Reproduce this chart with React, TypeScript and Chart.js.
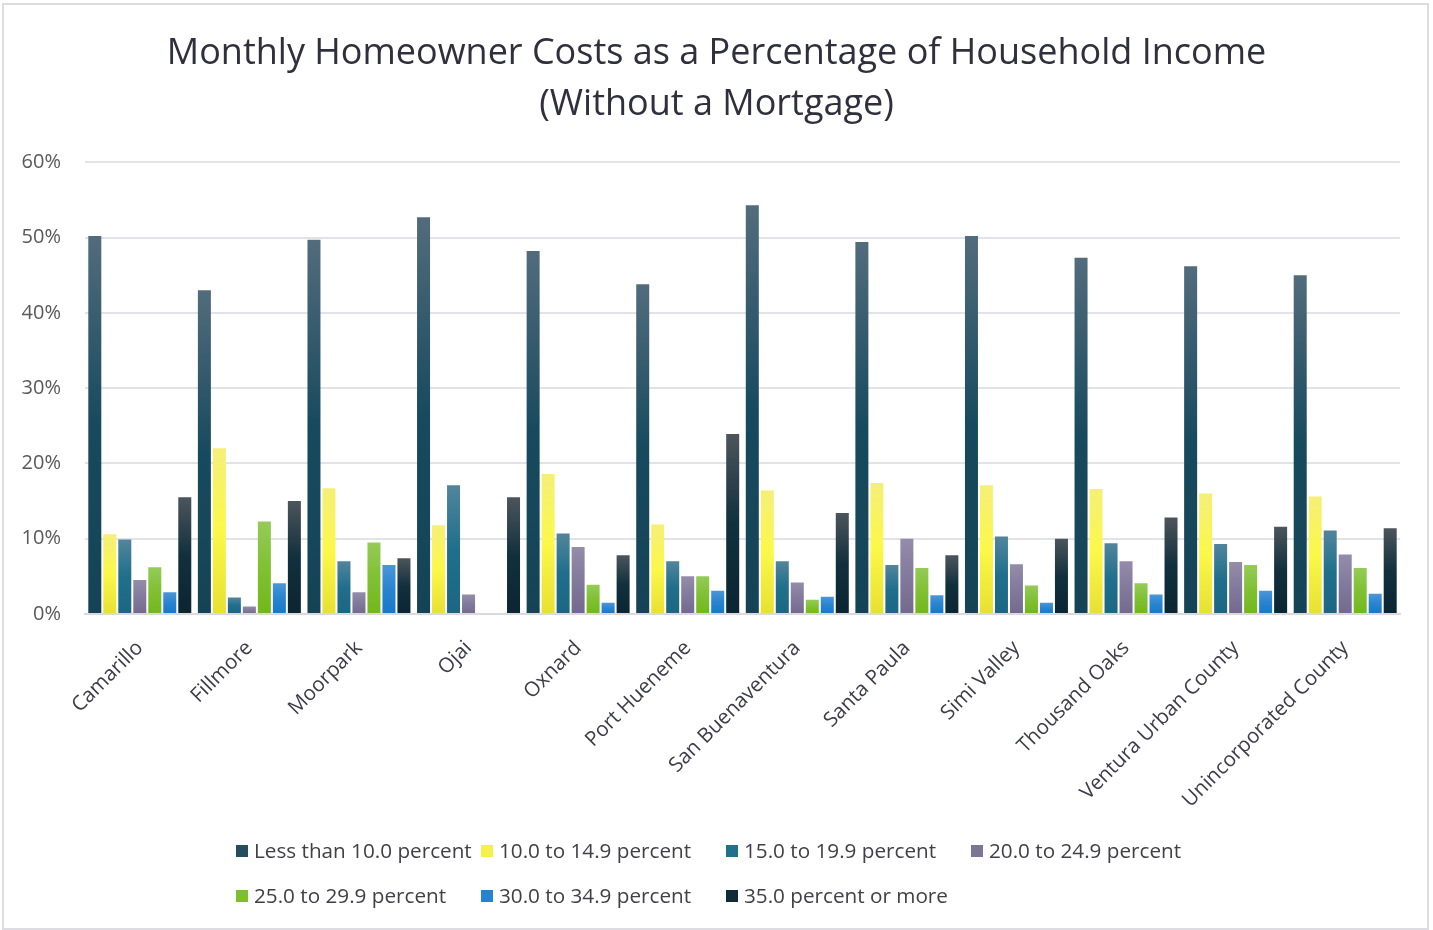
import React, { useEffect, useRef } from "react";
import { Chart, registerables } from "chart.js";

Chart.register(...registerables);

const titleLines = [
  "Monthly Homeowner Costs as a Percentage of Household Income",
  "(Without a Mortgage)",
];

const categories = [
  "Camarillo",
  "Fillmore",
  "Moorpark",
  "Ojai",
  "Oxnard",
  "Port Hueneme",
  "San Buenaventura",
  "Santa Paula",
  "Simi Valley",
  "Thousand Oaks",
  "Ventura Urban County",
  "Unincorporated County",
];

const seriesNames = [
  "Less than 10.0 percent",
  "10.0 to 14.9 percent",
  "15.0 to 19.9 percent",
  "20.0 to 24.9 percent",
  "25.0 to 29.9 percent",
  "30.0 to 34.9 percent",
  "35.0 percent or more",
];

const lessThan10 = [50.2, 43.0, 49.7, 52.7, 48.2, 43.8, 54.3, 49.4, 50.2, 47.3, 46.2, 45.0];
const pct10to14 = [10.6, 22.0, 16.7, 11.8, 18.6, 11.9, 16.4, 17.4, 17.1, 16.6, 16.0, 15.6];
const pct15to19 = [9.9, 2.2, 7.0, 17.1, 10.7, 7.0, 7.0, 6.5, 10.3, 9.4, 9.3, 11.1];
const pct20to24 = [4.5, 1.0, 2.9, 2.6, 8.9, 5.0, 4.2, 10.0, 6.6, 7.0, 6.9, 7.9];
const pct25to29 = [6.2, 12.3, 9.5, 0, 3.9, 5.0, 1.9, 6.1, 3.8, 4.1, 6.5, 6.1];
const pct30to34 = [2.9, 4.1, 6.5, 0, 1.5, 3.1, 2.3, 2.5, 1.5, 2.6, 3.1, 2.7];
const pct35plus = [15.5, 15.0, 7.4, 15.5, 7.8, 23.9, 13.4, 7.8, 10.0, 12.8, 11.6, 11.4];

const seriesValues = [lessThan10, pct10to14, pct15to19, pct20to24, pct25to29, pct30to34, pct35plus];

const yMin = 0;
const yMax = 60;
const yStep = 10;

// gradient colours per series: top, middle, bottom, legend swatch
const seriesColors = [
  { top: "#526c7c", mid: "#174a5e", bot: "#154356", swatch: "#244e5e" },
  { top: "#f5ef78", mid: "#fbf84a", bot: "#e6e032", swatch: "#f5f04a" },
  { top: "#52859c", mid: "#1f6f8c", bot: "#1c6683", swatch: "#23708c" },
  { top: "#948ca9", mid: "#827a9c", bot: "#73698e", swatch: "#7d7596" },
  { top: "#95cb57", mid: "#80c033", bot: "#72b71b", swatch: "#7cc12c" },
  { top: "#4c96d8", mid: "#2784d0", bot: "#1877c7", swatch: "#2583d0" },
  { top: "#4c555b", mid: "#11303d", bot: "#0b2531", swatch: "#0f2c38" },
];

const FONT = "'Open Sans', 'Segoe UI', sans-serif";

const frameAndLegend = {
  id: "frameAndLegend",
  beforeDraw(chart: any) {
    const c = chart.ctx;
    c.save();
    c.fillStyle = "#ffffff";
    c.fillRect(0, 0, chart.width, chart.height);
    c.strokeStyle = "#dcdce2";
    c.lineWidth = 2;
    c.strokeRect(3, 4, 1425, 925);
    c.restore();
  },
  afterDraw(chart: any) {
    const c = chart.ctx;
    c.save();
    c.font = `20.7px ${FONT}`;
    c.textBaseline = "middle";
    c.textAlign = "left";
    const startX = 236;
    const colW = 245;
    const rowY = [851, 896];
    seriesNames.forEach((name, i) => {
      const col = i % 4;
      const row = Math.floor(i / 4);
      const x = startX + col * colW;
      const y = rowY[row];
      c.fillStyle = seriesColors[i].swatch;
      c.fillRect(x, y - 6, 12, 12);
      c.fillStyle = "#404048";
      c.fillText(name, x + 18, y + 1);
    });
    c.restore();
  },
};

function makeGradient(i: number) {
  return (ctx: any) => {
    const col = seriesColors[i];
    const chart = ctx.chart;
    if (ctx.type !== "data" || !chart.chartArea || !chart.scales || !chart.scales.y) return col.mid;
    const v = ctx.parsed ? ctx.parsed.y : ctx.raw;
    const ys = chart.scales.y;
    const top = ys.getPixelForValue(v);
    const bottom = ys.getPixelForValue(0);
    if (!isFinite(top) || !isFinite(bottom) || Math.abs(bottom - top) < 1) return col.mid;
    const g = chart.ctx.createLinearGradient(0, top, 0, bottom);
    g.addColorStop(0, col.top);
    g.addColorStop(0.5, col.mid);
    g.addColorStop(1, col.bot);
    return g;
  };
}

export default function App() {
  const canvasRef = useRef<HTMLCanvasElement | null>(null);

  useEffect(() => {
    if (!canvasRef.current) return;
    const chart = new Chart(canvasRef.current, {
      type: "bar",
      data: {
        labels: categories,
        datasets: seriesNames.map((name, i) => ({
          label: name,
          data: seriesValues[i],
          backgroundColor: makeGradient(i),
          borderWidth: 0,
          barPercentage: 0.867,
          categoryPercentage: 0.958,
        })),
      },
      options: {
        animation: false,
        responsive: true,
        maintainAspectRatio: false,
        layout: { padding: { left: 0, right: 0, top: 0, bottom: 0 } },
        plugins: {
          legend: { display: false },
          tooltip: { enabled: false },
          title: {
            display: true,
            text: titleLines,
            color: "#30303d",
            font: { family: FONT, size: 36, weight: "normal", lineHeight: 1.42 },
            padding: { top: 28, bottom: 32 },
          },
        },
        scales: {
          x: {
            grid: { display: false, drawTicks: false },
            border: { display: true, color: "#d9d9df", width: 2 },
            ticks: {
              color: "#3c3c4a",
              font: { family: FONT, size: 20.5 },
              minRotation: 45,
              maxRotation: 45,
              padding: 22,
              autoSkip: false,
            },
            afterFit(scale: any) {
              scale.height = 316;
            },
          },
          y: {
            min: yMin,
            max: yMax,
            grid: { color: "#e2e2e8", lineWidth: 2, drawTicks: false },
            border: { display: false },
            ticks: {
              stepSize: yStep,
              color: "#595959",
              font: { family: FONT, size: 20 },
              padding: 24,
              callback: (v: any) => `${v}%`,
            },
            afterFit(scale: any) {
              scale.width = 85;
            },
          },
          yRight: {
            position: "right",
            display: true,
            min: yMin,
            max: yMax,
            grid: { display: false, drawTicks: false },
            border: { display: false },
            ticks: { display: false },
            afterFit(scale: any) {
              scale.width = 33;
            },
          },
        },
      },
      plugins: [frameAndLegend],
    });
    return () => chart.destroy();
  }, []);

  return (
    <div style={{ position: "absolute", left: 0, top: 0, width: 1433, height: 930 }}>
      <canvas ref={canvasRef} />
    </div>
  );
}
